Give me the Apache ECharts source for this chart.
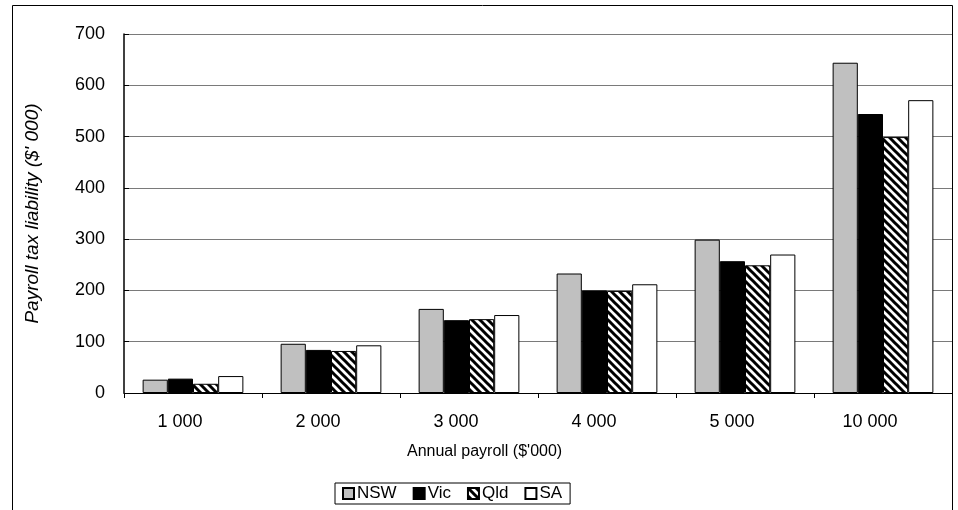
<!DOCTYPE html>
<html>
<head>
<meta charset="utf-8">
<script src="https://cdn.jsdelivr.net/npm/echarts@6/dist/echarts.min.js"></script>
<style>
  html, body { margin: 0; padding: 0; background: #fff; }
  #chart { width: 958px; height: 510px; }
</style>
</head>
<body>
<div id="chart"></div>
<script>
// Annual payroll bands ($'000)
const categories = ['1 000', '2 000', '3 000', '4 000', '5 000', '10 000'];

// Payroll tax liability ($'000) by state
const nsw = [26, 96, 164, 233, 299, 644];
const vic = [28, 84, 142, 200, 257, 544];
const qld = [18, 82, 144, 199, 249, 499];
const sa  = [33, 93, 152, 212, 270, 571];

const yTicks = { min: 0, max: 700, interval: 100 };

// Diagonal hatch used for Qld bars
function hatchPattern() {
  const s = 8;
  const c = document.createElement('canvas');
  c.width = s; c.height = s;
  const ctx = c.getContext('2d');
  ctx.fillStyle = '#fff';
  ctx.fillRect(0, 0, s, s);
  ctx.strokeStyle = '#000';
  ctx.lineWidth = 3;
  [-s, 0, s].forEach(function (o) {
    ctx.beginPath();
    ctx.moveTo(o - 2, -2);
    ctx.lineTo(o + s + 2, s + 2);
    ctx.stroke();
  });
  return { image: c, repeat: 'repeat' };
}

const font = 'Liberation Sans, Arial, sans-serif';
const border = { borderColor: '#000', borderWidth: 1 };

function barSeries(name, data, color) {
  return {
    name: name,
    type: 'bar',
    data: data,
    barGap: '0%',
    barCategoryGap: '27%',
    itemStyle: Object.assign({ color: color }, border),
    emphasis: { disabled: true }
  };
}

const chart = echarts.init(document.getElementById('chart'), null, { renderer: 'canvas' });
chart.setOption({
  animation: false,
  backgroundColor: '#fff',
  textStyle: { fontFamily: font, color: '#000' },
  grid: { left: 124, right: 6, top: 34, bottom: 117, containLabel: false },
  graphic: [
    {
      type: 'rect',
      shape: { x: 12.5, y: 5.5, width: 940, height: 520 },
      style: { fill: 'none', stroke: '#000', lineWidth: 1 },
      z: -1
    },
    {
      type: 'text',
      left: 407,
      top: 444,
      style: { text: "Annual payroll ($'000)", font: '16px ' + font, fill: '#000' }
    }
  ],
  legend: {
    left: 335,
    top: 483,
    padding: [2, 8, 2, 7],
    borderColor: '#000',
    borderWidth: 1,
    borderRadius: 0,
    itemWidth: 11,
    itemHeight: 11,
    itemGap: 16,
    icon: 'rect',
    textStyle: { fontSize: 17, fontFamily: font, color: '#000', padding: [0, 0, 0, -2] },
    data: ['NSW', 'Vic', 'Qld', 'SA']
  },
  xAxis: {
    type: 'category',
    data: categories,
    axisLine: { lineStyle: { color: '#000', width: 1 } },
    axisTick: { show: true, length: 5, lineStyle: { color: '#000' } },
    axisLabel: { fontSize: 18, fontFamily: font, color: '#000', margin: 20, padding: [0, 26, 0, 0] },
    splitLine: { show: false }
  },
  yAxis: {
    type: 'value',
    min: yTicks.min,
    max: yTicks.max,
    interval: yTicks.interval,
    name: "Payroll tax liability ($' 000)",
    nameLocation: 'middle',
    nameGap: 82,
    nameTextStyle: { fontSize: 19, fontStyle: 'italic', fontFamily: font, color: '#000' },
    axisLine: { show: true, lineStyle: { color: '#000', width: 1.5 } },
    axisTick: { show: true, inside: true, length: 5, lineStyle: { color: '#000' } },
    axisLabel: { fontSize: 18, fontFamily: font, color: '#000', margin: 19 },
    splitLine: { show: true, lineStyle: { color: '#7a7a7a', width: 1 } }
  },
  series: [
    barSeries('NSW', nsw, '#c0c0c0'),
    barSeries('Vic', vic, '#000000'),
    barSeries('Qld', qld, hatchPattern()),
    barSeries('SA', sa, '#ffffff')
  ]
});
</script>
</body>
</html>
